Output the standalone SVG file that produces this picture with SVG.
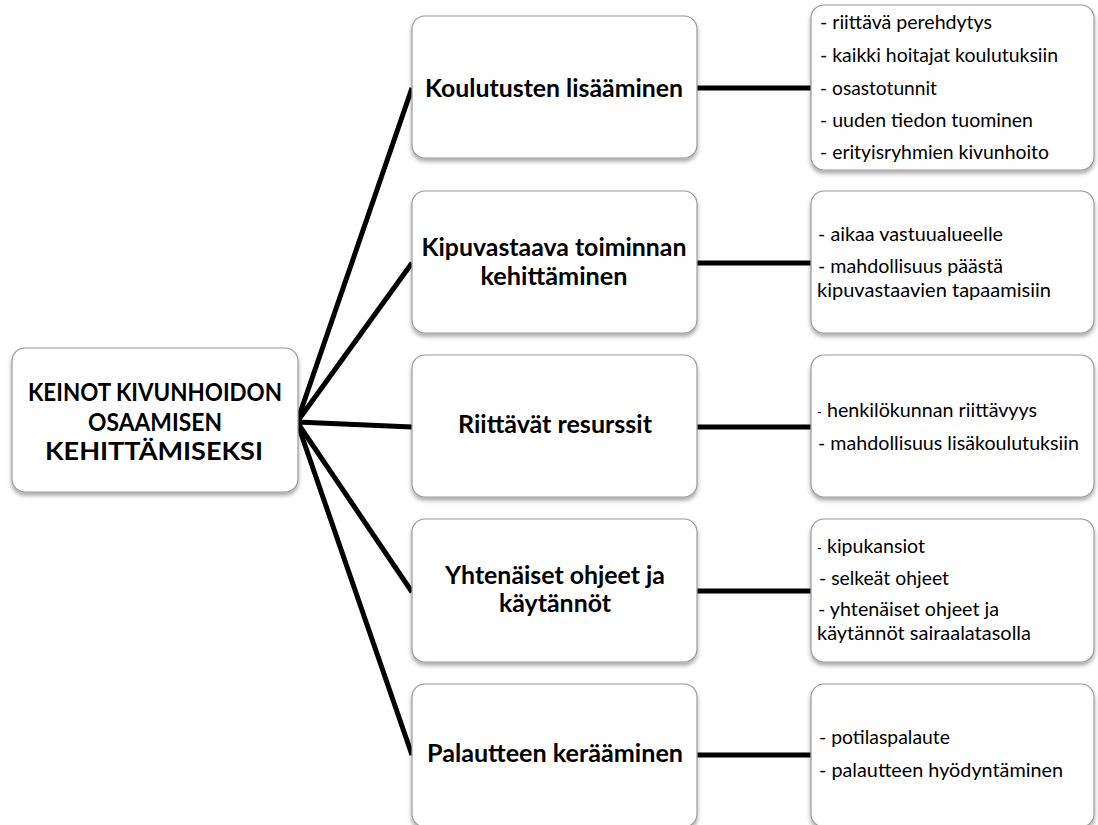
<svg xmlns="http://www.w3.org/2000/svg" width="1098" height="825" viewBox="0 0 1098 825">
<style>
.box{fill:#ffffff;stroke:#9a9a9a;stroke-width:1.2;filter:url(#sh)}
.conn line{stroke:#000;stroke-width:5;stroke-linecap:butt}
.t{font-family:Lato,"Open Sans","Liberation Sans",sans-serif;fill:#000}
.b{font-weight:bold;font-size:24px;text-anchor:middle}
.r{font-size:20px}
.sd{font-size:13px}
</style>
<defs>
<filter id="sh" x="-10%" y="-10%" width="120%" height="130%">
<feDropShadow dx="0" dy="3" stdDeviation="2" flood-color="#000" flood-opacity="0.35"/>
</filter>
</defs>
<rect width="1098" height="825" fill="#ffffff"/>
<g id="connectors" class="conn">
<line x1="297" y1="422" x2="412" y2="88"/>
<line x1="297" y1="422" x2="412" y2="263"/>
<line x1="297" y1="422" x2="412" y2="427"/>
<line x1="297" y1="422" x2="412" y2="592"/>
<line x1="297" y1="422" x2="412" y2="755"/>
<line x1="697" y1="88" x2="811" y2="88"/>
<line x1="697" y1="263" x2="811" y2="263"/>
<line x1="697" y1="427" x2="811" y2="427"/>
<line x1="697" y1="591" x2="811" y2="591"/>
<line x1="697" y1="755" x2="811" y2="755"/>
</g>
<g id="root">
<rect class="box" x="12" y="348" width="286" height="144" rx="13"/>
<text class="t b" x="155" y="401" textLength="254" lengthAdjust="spacingAndGlyphs">KEINOT KIVUNHOIDON</text>
<text class="t b" x="155" y="431" textLength="134" lengthAdjust="spacingAndGlyphs">OSAAMISEN</text>
<text class="t b" x="154" y="460" textLength="218" lengthAdjust="spacingAndGlyphs">KEHITTÄMISEKSI</text>
</g>
<g id="n1">
<rect class="box" x="412" y="16" width="285" height="142" rx="13"/>
<text class="t b" x="554" y="97" textLength="258" lengthAdjust="spacingAndGlyphs">Koulutusten lisääminen</text>
</g>
<g id="n2">
<rect class="box" x="412" y="191" width="285" height="142" rx="13"/>
<text class="t b" x="554" y="256" textLength="265" lengthAdjust="spacingAndGlyphs">Kipuvastaava toiminnan</text>
<text class="t b" x="554" y="285" textLength="147" lengthAdjust="spacingAndGlyphs">kehittäminen</text>
</g>
<g id="n3">
<rect class="box" x="412" y="355" width="285" height="142" rx="13"/>
<text class="t b" x="555" y="433" textLength="194" lengthAdjust="spacingAndGlyphs">Riittävät resurssit</text>
</g>
<g id="n4">
<rect class="box" x="412" y="519" width="285" height="143" rx="13"/>
<text class="t b" x="555" y="584" textLength="220" lengthAdjust="spacingAndGlyphs">Yhtenäiset ohjeet ja</text>
<text class="t b" x="555" y="612" textLength="112" lengthAdjust="spacingAndGlyphs">käytännöt</text>
</g>
<g id="n5">
<rect class="box" x="412" y="684" width="285" height="143" rx="13"/>
<text class="t b" x="555" y="762" textLength="256" lengthAdjust="spacingAndGlyphs">Palautteen kerääminen</text>
</g>
<g id="d1">
<rect class="box" x="811" y="5" width="283" height="165" rx="13"/>
<text class="t r" x="820" y="29" textLength="172" lengthAdjust="spacingAndGlyphs">- riittävä perehdytys</text>
<text class="t r" x="820" y="62" textLength="238" lengthAdjust="spacingAndGlyphs">- kaikki hoitajat koulutuksiin</text>
<text class="t r" x="820" y="95" textLength="117" lengthAdjust="spacingAndGlyphs">- osastotunnit</text>
<text class="t r" x="820" y="127" textLength="213" lengthAdjust="spacingAndGlyphs">- uuden tiedon tuominen</text>
<text class="t r" x="820" y="159" textLength="229" lengthAdjust="spacingAndGlyphs">- erityisryhmien kivunhoito</text>
</g>
<g id="d2">
<rect class="box" x="811" y="191" width="283" height="142" rx="13"/>
<text class="t r" x="818" y="241" textLength="185" lengthAdjust="spacingAndGlyphs">- aikaa vastuualueelle</text>
<text class="t r" x="818" y="273" textLength="185" lengthAdjust="spacingAndGlyphs">- mahdollisuus päästä</text>
<text class="t r" x="817" y="297" textLength="234" lengthAdjust="spacingAndGlyphs">kipuvastaavien tapaamisiin</text>
</g>
<g id="d3">
<rect class="box" x="811" y="355" width="283" height="142" rx="13"/>
<text class="t sd" x="817" y="417">-</text>
<text class="t r" x="827" y="417" textLength="210" lengthAdjust="spacingAndGlyphs">henkilökunnan riittävyys</text>
<text class="t r" x="818" y="450" textLength="261" lengthAdjust="spacingAndGlyphs">- mahdollisuus lisäkoulutuksiin</text>
</g>
<g id="d4">
<rect class="box" x="811" y="519" width="283" height="143" rx="13"/>
<text class="t sd" x="817" y="553">-</text>
<text class="t r" x="827" y="553" textLength="98" lengthAdjust="spacingAndGlyphs">kipukansiot</text>
<text class="t r" x="819" y="585" textLength="130" lengthAdjust="spacingAndGlyphs">- selkeät ohjeet</text>
<text class="t r" x="818" y="616" textLength="181" lengthAdjust="spacingAndGlyphs">- yhtenäiset ohjeet ja</text>
<text class="t r" x="817" y="640" textLength="214" lengthAdjust="spacingAndGlyphs">käytännöt sairaalatasolla</text>
</g>
<g id="d5">
<rect class="box" x="811" y="684" width="283" height="143" rx="13"/>
<text class="t r" x="819" y="744" textLength="131" lengthAdjust="spacingAndGlyphs">- potilaspalaute</text>
<text class="t r" x="819" y="777" textLength="244" lengthAdjust="spacingAndGlyphs">- palautteen hyödyntäminen</text>
</g>
</svg>
